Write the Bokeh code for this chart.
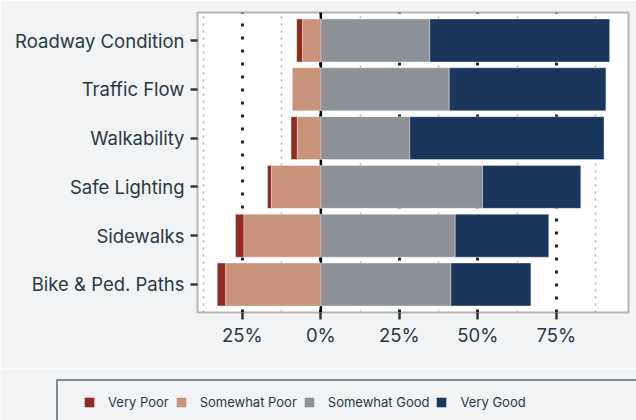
import numpy as np
from bokeh.plotting import figure
from bokeh.layouts import column
from bokeh.models import (Range1d, FixedTicker, CustomJSTickFormatter, Span, Legend, LegendItem)
from bokeh.embed import file_html
from bokeh.resources import INLINE

categories = ["Roadway Condition", "Traffic Flow", "Walkability", "Safe Lighting", "Sidewalks", "Bike & Ped. Paths"]
very_poor = [1.9, 0.0, 2.0, 1.3, 2.7, 2.7]
somewhat_poor = [5.8, 9.1, 7.5, 15.7, 24.5, 30.3]
somewhat_good = [34.7, 40.9, 28.3, 51.5, 42.8, 41.4]
very_good = [57.3, 49.9, 61.9, 31.3, 29.8, 25.5]
x_ticks = [-25, 0, 25, 50, 75]
x_minor = [-37.5, -12.5, 12.5, 37.5, 62.5, 87.5]

BG = "#f1f3f5"
TXT = "#2b3a42"
FONT = "Inter"
colors = ["#922b21", "#c99379", "#8b9398", "#1b365d"]
names = ["Very Poor", "Somewhat Poor", "Somewhat Good", "Very Good"]

n = len(categories)
ypos = np.arange(n)[::-1].astype(float)
vp = np.array(very_poor); sp = np.array(somewhat_poor)
sg = np.array(somewhat_good); vg = np.array(very_good)

p = figure(width=636, height=368, output_backend="svg", toolbar_location=None,
           x_range=Range1d(-39.3, 98.0), y_range=Range1d(-0.574, n - 1 + 0.574),
           min_border_left=197, min_border_right=8, min_border_top=12, min_border_bottom=56)
p.background_fill_color = "white"
p.border_fill_color = BG
p.outline_line_color = "#b8b4ae"
p.outline_line_width = 2

# grids
p.ygrid.grid_line_color = None
p.xgrid.ticker = FixedTicker(ticks=x_ticks, minor_ticks=x_minor)
p.xgrid.grid_line_color = "#1a2733"
p.xgrid.grid_line_width = 3
p.xgrid.grid_line_dash = "3 10"
p.xgrid.minor_grid_line_color = "#b0b0b0"
p.xgrid.minor_grid_line_width = 1.5
p.xgrid.minor_grid_line_dash = "2 5"

zero = Span(location=0, dimension="height", line_color="black", line_width=2.5, level="underlay")
p.add_layout(zero)

h = 0.88
bars = [
    (-(sp + vp), -sp, colors[0]),
    (-sp, np.zeros(n), colors[1]),
    (np.zeros(n), sg, colors[2]),
    (sg, sg + vg, colors[3]),
]
for (l, r, c) in bars:
    p.hbar(y=ypos, left=l, right=r, height=h, fill_color=c,
           line_color="white", line_alpha=0.35, line_width=1)

# axes
p.xaxis.ticker = FixedTicker(ticks=x_ticks)
p.xaxis.formatter = CustomJSTickFormatter(code="return Math.abs(tick) + '%';")
p.yaxis.ticker = FixedTicker(ticks=list(range(n)))
p.yaxis.formatter = CustomJSTickFormatter(args=dict(labels=categories),
                                          code="return labels[labels.length - 1 - Math.round(tick)];")
for ax in (p.xaxis[0], p.yaxis[0]):
    ax.axis_line_color = None
    ax.major_tick_line_color = TXT
    ax.major_tick_line_width = 2.5
    ax.major_tick_out = 7
    ax.major_tick_in = 0
    ax.minor_tick_line_color = None
    ax.major_label_text_font = FONT
    ax.major_label_text_font_size = "18.5px"
    ax.major_label_text_color = TXT
p.yaxis.major_label_standoff = 6
p.xaxis.major_label_standoff = 4

# legend strip
lf = figure(width=636, height=52, output_backend="svg", toolbar_location=None,
            x_range=Range1d(0, 1), y_range=Range1d(0, 1),
            min_border_left=0, min_border_right=0, min_border_top=0, min_border_bottom=0)
lf.axis.visible = False
lf.grid.visible = False
lf.outline_line_color = None
lf.background_fill_color = BG
lf.border_fill_color = BG
rends = []
for nm, c in zip(names, colors):
    rends.append(lf.hbar(y=[5.0], left=[5.0], right=[6.0], height=0.5, fill_color=c, line_color=None))
pad_r = lf.hbar(y=[5.0], left=[5.0], right=[6.0], height=0.5, fill_alpha=0, line_alpha=0)

aligned = True
for f in (p, lf):
    if "frame_align" in f.properties():
        f.frame_align = False
        aligned = False
x0 = -141 if aligned else 56

items = [LegendItem(label=nm, renderers=[r]) for nm, r in zip(names, rends)]
items.append(LegendItem(label="\u00a0" * 28, renderers=[pad_r]))
legend = Legend(items=items,
                orientation="horizontal", location=(x0, -5),
                border_line_color="#15232f", border_line_width=2.5,
                background_fill_color=BG, background_fill_alpha=1,
                label_text_font=FONT, label_text_font_size="13px", label_text_color=TXT,
                glyph_width=12, glyph_height=12, label_standoff=13, spacing=6,
                padding=10, label_height=22,
                title=" ", title_location="left", title_standoff=0)
lf.add_layout(legend, "center")

layout = column(p, lf, spacing=0)
open("out.html", "w").write(file_html(layout, INLINE))
